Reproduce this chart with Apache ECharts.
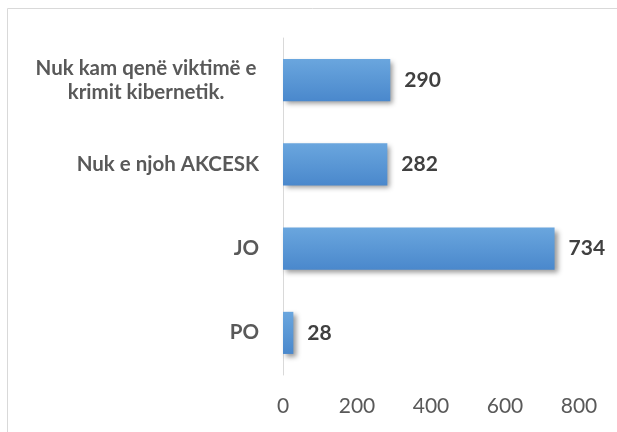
<!DOCTYPE html>
<html>
<head>
<meta charset="utf-8">
<script src="https://cdn.jsdelivr.net/npm/echarts@6/dist/echarts.min.js"></script>
<style>
  html, body { margin: 0; padding: 0; background: #fff; }
  #chart { width: 617px; height: 432px; }
</style>
</head>
<body>
<div id="chart"></div>
<script>
  // bottom to top, as the y category axis draws them
  var categories = ['PO', 'JO', 'Nuk e njoh AKCESK', 'Nuk kam qenë viktimë e\nkrimit kibernetik.']
  var values = [28, 734, 282, 290]
  var xTicks = [0, 200, 400, 600, 800]

  var chart = echarts.init(document.getElementById('chart'))

  // the two-line label is centred on itself, the others are right-aligned
  var yData = categories.map(function (c) {
    if (c.indexOf('\n') < 0) return c
    return { value: c, textStyle: { align: 'center', padding: [0, 226, 0, 0] } }
  })

  chart.setOption({
    animation: false,
    textStyle: { fontFamily: 'Lato' },
    graphic: [{
      type: 'rect',
      shape: { x: 7.5, y: 8.5, width: 700, height: 500 },
      style: { fill: 'none', stroke: '#d9d9d9', lineWidth: 1 },
      silent: true
    }],
    grid: { left: 283, right: 38, top: 38, bottom: 57 },
    xAxis: {
      type: 'value',
      min: xTicks[0],
      max: xTicks[xTicks.length - 1],
      interval: 200,
      axisLine: { show: false },
      axisTick: { show: false },
      splitLine: { show: false },
      axisLabel: {
        margin: 21,
        color: '#595959',
        fontSize: 21,
        fontFamily: 'Lato'
      }
    },
    yAxis: {
      type: 'category',
      data: yData,
      axisLine: { show: true, lineStyle: { color: '#d9d9d9', width: 1 } },
      axisTick: { show: false },
      axisLabel: {
        margin: 24,
        color: '#595959',
        fontSize: 20.5,
        fontWeight: 'bold',
        fontFamily: 'Lato',
        lineHeight: 24
      }
    },
    series: [{
      type: 'bar',
      data: values,
      barWidth: '50%',
      itemStyle: {
        color: new echarts.graphic.LinearGradient(0, 0, 0, 1, [
          { offset: 0, color: '#6aa6de' },
          { offset: 1, color: '#4a88cc' }
        ]),
        shadowColor: 'rgba(0,0,0,0.4)',
        shadowBlur: 5,
        shadowOffsetX: 3,
        shadowOffsetY: 3
      },
      label: {
        show: true,
        position: 'right',
        distance: 14,
        color: '#404040',
        fontSize: 21,
        fontWeight: 'bold',
        fontFamily: 'Lato'
      }
    }]
  })
</script>
</body>
</html>
